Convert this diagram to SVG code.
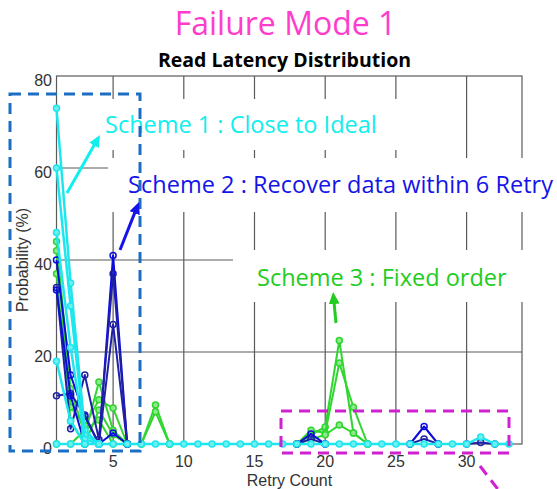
<svg xmlns="http://www.w3.org/2000/svg" width="557" height="489" viewBox="0 0 557 489">
  <style>
    .grid { stroke: #5a5a5a; stroke-width: 1.2; fill: none; }
    .tick { font-family: "Liberation Sans", Arial, sans-serif; font-size: 16px; fill: #333; }
    .lbl { font-family: "Liberation Sans", Arial, sans-serif; font-size: 16px; fill: #333; }
    .note { font-family: "Open Sans", "Liberation Sans", sans-serif; font-size: 23.5px; }
    .cy polyline { fill: none; stroke: #1ee6ee; stroke-width: 2.5; stroke-linejoin: round; marker-start: url(#mC); marker-mid: url(#mC); marker-end: url(#mC); }
    .bl polyline { fill: none; stroke: #0c0cdc; stroke-width: 2; stroke-linejoin: round; marker-start: url(#mB); marker-mid: url(#mB); marker-end: url(#mB); }
    .bl polyline.nv { stroke: #2020a6; marker-start: url(#mN); marker-mid: url(#mN); marker-end: url(#mN); }
    .gr polyline { fill: none; stroke: #2fd62f; stroke-width: 2; stroke-linejoin: round; marker-start: url(#mG); marker-mid: url(#mG); marker-end: url(#mG); }
    .bg { fill: #fff; }
    .dashB { fill: none; stroke: #1b6ec2; stroke-width: 3; stroke-dasharray: 11 7; }
    .dashM { fill: none; stroke: #d020d0; stroke-width: 3; stroke-dasharray: 11 7; }
  </style>
  <defs>
    <marker id="mC" viewBox="-4 -4 8 8" markerWidth="8" markerHeight="8" markerUnits="userSpaceOnUse" overflow="visible">
      <circle r="3" fill="#6ff0f0" stroke="#1ee6ee" stroke-width="1.5"/>
    </marker>
    <marker id="mB" viewBox="-4 -4 8 8" markerWidth="8" markerHeight="8" markerUnits="userSpaceOnUse" overflow="visible">
      <circle r="3" fill="none" stroke="#0c0cdc" stroke-width="1.5"/>
    </marker>
    <marker id="mN" viewBox="-4 -4 8 8" markerWidth="8" markerHeight="8" markerUnits="userSpaceOnUse" overflow="visible">
      <circle r="3" fill="none" stroke="#2020a6" stroke-width="1.5"/>
    </marker>
    <marker id="mG" viewBox="-4 -4 8 8" markerWidth="8" markerHeight="8" markerUnits="userSpaceOnUse" overflow="visible">
      <circle r="3" fill="#8ee88e" stroke="#2fd62f" stroke-width="1.5"/>
    </marker>
    <marker id="aC" viewBox="0 0 12 11" refX="3" refY="5.5" markerWidth="12" markerHeight="11" markerUnits="userSpaceOnUse" orient="auto">
      <path d="M0,0 L12,5.5 L0,11 z" fill="#10eeee"/>
    </marker>
    <marker id="aB" viewBox="0 0 12 11" refX="3" refY="5.5" markerWidth="12" markerHeight="11" markerUnits="userSpaceOnUse" orient="auto">
      <path d="M0,0 L12,5.5 L0,11 z" fill="#1414e8"/>
    </marker>
    <marker id="aG" viewBox="0 0 12 11" refX="3" refY="5.5" markerWidth="12" markerHeight="11" markerUnits="userSpaceOnUse" orient="auto">
      <path d="M0,0 L12,5.5 L0,11 z" fill="#22cc22"/>
    </marker>
  </defs>

  <rect width="557" height="489" fill="#fff"/>

  <!-- headings -->
  <g id="heading">
    <text x="285.5" y="35" text-anchor="middle" font-family="'Open Sans', 'Liberation Sans', sans-serif" font-size="32" fill="#ff3dcc">Failure Mode 1</text>
    <text x="284.5" y="67" text-anchor="middle" font-family="'Open Sans', 'Liberation Sans', sans-serif" font-size="19.5" font-weight="bold" fill="#000">Read Latency Distribution</text>
  </g>

  <!-- axes: frame, grid, ticks -->
  <g id="axes">
    <rect class="grid" x="56.5" y="76" width="465.5" height="368"/>
    <path class="grid" d="M113.1,76V444 M183.8,76V444 M254.5,76V444 M325.2,76V444 M395.9,76V444 M466.6,76V444 M56.5,168H522 M56.5,260H522 M56.5,352H522"/>
    <g class="tick" text-anchor="end">
      <text x="52" y="85.5">80</text>
      <text x="52" y="177.5">60</text>
      <text x="52" y="269.5">40</text>
      <text x="52" y="361.5">20</text>
      <text x="52" y="453.5">0</text>
    </g>
    <g class="tick" text-anchor="middle">
      <text x="113.1" y="467">5</text>
      <text x="183.8" y="467">10</text>
      <text x="254.5" y="467">15</text>
      <text x="325.2" y="467">20</text>
      <text x="395.9" y="467">25</text>
      <text x="466.6" y="467">30</text>
    </g>
    <text class="lbl" x="289.5" y="486" text-anchor="middle">Retry Count</text>
    <text class="lbl" transform="translate(28,260) rotate(-90)" text-anchor="middle">Probability (%)</text>
  </g>

  <!-- label backgrounds over the grid -->
  <g id="label-backgrounds">
    <rect class="bg" x="100" y="99" width="300" height="51"/>
    <rect class="bg" x="108" y="158" width="449" height="54"/>
    <rect class="bg" x="233" y="250" width="324" height="52"/>
  </g>

  <!-- Scheme 3 series -->
  <g id="series-scheme3" class="gr">
    <polyline points="56.5,241.6 70.6,388.8 84.8,434.8 98.9,381.9 113.1,430.2 127.2,444"/>
    <polyline points="56.5,250.8 70.6,407.2 84.8,425.6 98.9,399.8 113.1,408.1 127.2,444"/>
    <polyline points="56.5,273.8 70.6,421 84.8,444 98.9,410 113.1,434.8 127.2,444"/>
    <polyline points="56.5,444 70.6,444 84.8,430.2 98.9,420.1 113.1,444 127.2,444 141.3,444 155.5,404.9 169.6,444"/>
    <polyline points="141.3,444 155.5,411.8 169.6,444"/>
    <polyline points="296.9,444 311,434.8 325.2,427 339.3,340.5 353.4,433 367.6,444"/>
    <polyline points="296.9,444 311,430.2 325.2,433 339.3,363 353.4,407.2 367.6,444"/>
    <polyline points="296.9,444 311,439.4 325.2,434.8 339.3,425.1 353.4,433 367.6,444"/>
  </g>

  <!-- Scheme 2 series -->
  <g id="series-scheme2" class="bl">
    <polyline points="56.5,260 70.6,375 84.8,416.4 98.9,444 113.1,255.4 127.2,444"/>
    <polyline class="nv" points="56.5,287.6 70.6,428.8 84.8,375 98.9,439.4 113.1,273.8 127.2,444"/>
    <polyline class="nv" points="56.5,395.7 70.6,393.4 84.8,415 98.9,444 113.1,324.4 127.2,444"/>
    <polyline points="56.5,289.9 70.6,395.7 84.8,444 98.9,444 113.1,433 127.2,444"/>
    <polyline points="296.9,444 311,433.9 325.2,444"/>
    <polyline class="nv" points="296.9,444 311,438.9 325.2,444"/>
    <polyline points="410,444 424.1,426.5 438.3,444"/>
    <polyline class="nv" points="410,444 424.1,438.9 438.3,444"/>
    <polyline class="nv" points="466.6,444 480.7,442.6 494.8,444"/>
  </g>

  <!-- Scheme 1 series -->
  <g id="series-scheme1" class="cy">
    <polyline points="56.5,108.2 70.6,283 84.8,430.2 98.9,444"/>
    <polyline points="56.5,168 70.6,306 84.8,434.8 98.9,444"/>
    <polyline points="56.5,232.4 70.6,347.4 84.8,439.4 98.9,444"/>
    <polyline points="56.5,361.2 70.6,421 84.8,444"/>
    <polyline points="56.5,444 70.6,444 84.8,444 98.9,444 113.1,444 127.2,444 141.3,444 155.5,444 169.6,444 183.8,444 197.9,444 212,444 226.2,444 240.3,444 254.5,444 268.6,444 282.7,444 296.9,444 311,444 325.2,444 339.3,444 353.4,444 367.6,444 381.7,444 395.9,444 410,444 424.1,444 438.3,444 452.4,444 466.6,444 480.7,437.1 494.8,444 509,444"/>
  </g>

  <!-- scheme labels -->
  <g id="label-scheme1">
    <text class="note" x="105" y="133" fill="#10eeee">Scheme 1 : Close to Ideal</text>
  </g>
  <g id="label-scheme2">
    <text class="note" x="128" y="193" fill="#1414e8" textLength="425">Scheme 2 : Recover data within 6 Retry</text>
  </g>
  <g id="label-scheme3">
    <text class="note" x="257" y="286" fill="#22cc22">Scheme 3 : Fixed order</text>
  </g>

  <!-- highlight regions -->
  <g id="region-start">
    <rect class="dashB" x="10" y="94" width="130" height="357"/>
  </g>
  <g id="region-tail">
    <rect class="dashM" x="281" y="411" width="228" height="42"/>
  </g>

  <!-- connectors -->
  <g id="connectors">
    <line x1="67" y1="193" x2="95.5" y2="142.8" stroke="#10eeee" stroke-width="3" marker-end="url(#aC)"/>
    <line x1="120" y1="250" x2="135.7" y2="210.4" stroke="#1414e8" stroke-width="3" marker-end="url(#aB)"/>
    <line x1="336" y1="323" x2="333.9" y2="301" stroke="#22cc22" stroke-width="3" marker-end="url(#aG)"/>
    <line class="dashM" x1="480" y1="466" x2="500" y2="492"/>
  </g>
</svg>
